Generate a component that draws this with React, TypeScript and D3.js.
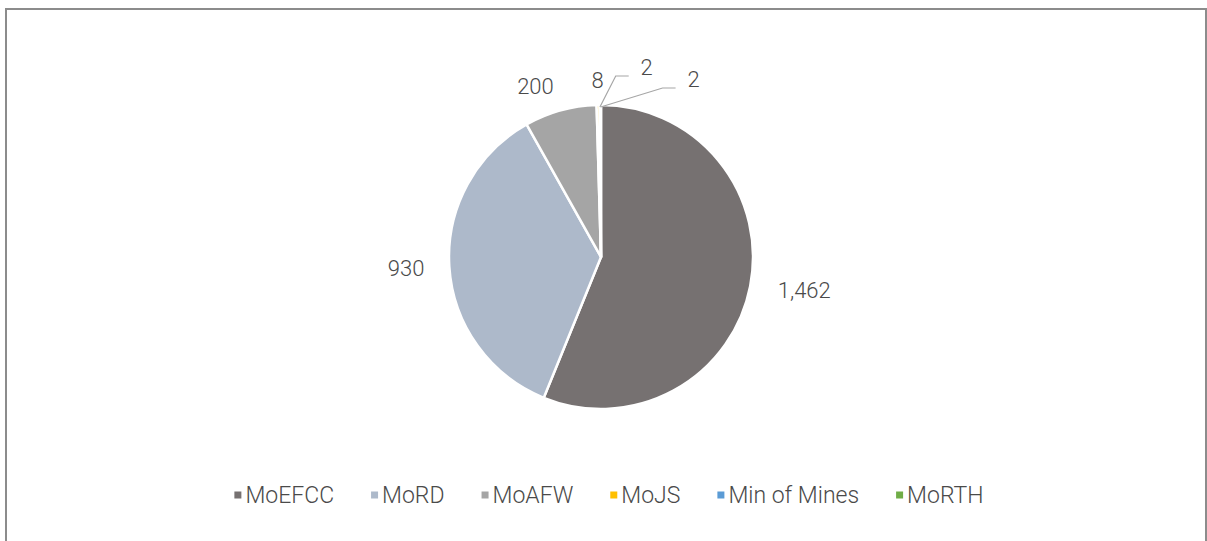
import React, { useEffect, useRef } from "react";
import * as d3 from "d3";

// ministries shown in the pie, clockwise from 12 o'clock
const ministries = ["MoEFCC", "MoRD", "MoAFW", "MoJS", "Min of Mines", "MoRTH"];
const counts = [1462, 930, 200, 8, 2, 2];
const colours = ["#767171", "#ADB9CA", "#A5A5A5", "#FFC000", "#5B9BD5", "#70AD47"];

const W = 1207;
const H = 541;
const cx = 601;
const cy = 257;
const radius = 152;
const labelRadius = 177;
const font = "Roboto, 'Liberation Sans', Arial, sans-serif";
const textColour = "#4a4a4a";

// the two smallest labels are pushed aside so they don't sit on top of "8"
const labelNudge: [number, number][] = [[0, 0], [0, 0], [0, 0], [0, 0], [47, -13], [93, -1]];

export default function App() {
	const ref = useRef<SVGSVGElement>(null);

	useEffect(() => {
		const svg = d3.select(ref.current);
		svg.selectAll("*").remove();

		svg.append("rect")
			.attr("x", 6)
			.attr("y", 9)
			.attr("width", 1200)
			.attr("height", 600)
			.attr("fill", "#fff")
			.attr("stroke", "#8c8c8c")
			.attr("stroke-width", 2);

		const pie = d3.pie<number>().sort(null).value(d => d);
		const slices = pie(counts);
		const arc = d3.arc<d3.PieArcDatum<number>>().innerRadius(0).outerRadius(radius);
		const labelArc = d3.arc<d3.PieArcDatum<number>>().innerRadius(labelRadius).outerRadius(labelRadius);
		const edgeArc = d3.arc<d3.PieArcDatum<number>>().innerRadius(radius - 2).outerRadius(radius - 2);
		const fmt = d3.format(",");

		const g = svg.append("g").attr("transform", `translate(${cx},${cy})`);
		g.selectAll("path.slice")
			.data(slices)
			.join("path")
			.attr("class", "slice")
			.attr("d", arc)
			.attr("fill", (d, i) => colours[i])
			.attr("stroke", "#fff")
			.attr("stroke-width", 2.5)
			.attr("stroke-linejoin", "round");

		slices.forEach((s, i) => {
			const [bx, by] = labelArc.centroid(s);
			const [nx, ny] = labelNudge[i];
			const x = bx + nx;
			const y = by + ny;
			const mid = (s.startAngle + s.endAngle) / 2;
			const sin = Math.sin(mid);
			let anchor = "middle";
			if (nx === 0 && sin > 0.1) anchor = "start";
			if (nx === 0 && sin < -0.1) anchor = "end";

			if (nx !== 0) {
				// leader line: pie edge -> elbow -> just below-left of the label
				const [ex, ey] = edgeArc.centroid(s);
				const endX = x - 18;
				const endY = y + 9;
				g.append("polyline")
					.attr("points", `${ex},${ey} ${endX - 13},${endY} ${endX},${endY}`)
					.attr("fill", "none")
					.attr("stroke", "#a6a6a6")
					.attr("stroke-width", 1.2);
			}

			g.append("text")
				.attr("x", x + (anchor === "start" ? 3 : 0))
				.attr("y", y)
				.attr("text-anchor", anchor)
				.attr("dominant-baseline", "central")
				.style("font-family", font)
				.style("font-weight", 300)
				.style("font-size", "22px")
				.style("fill", textColour)
				.text(fmt(counts[i]));
		});

		// legend along the bottom, centred under the pie
		const legend = svg.append("g").attr("transform", "translate(0,495)");
		const sq = 7;
		const gapIn = 4;
		const gapOut = 37;
		const items = ministries.map((m, i) => {
			const item = legend.append("g");
			item.append("rect")
				.attr("y", -sq / 2)
				.attr("width", sq)
				.attr("height", sq)
				.attr("fill", colours[i]);
			const t = item.append("text")
				.attr("x", sq + gapIn)
				.attr("dominant-baseline", "central")
				.style("font-family", font)
				.style("font-weight", 300)
				.style("font-size", "23px")
				.style("fill", textColour)
				.text(m);
			const w = (t.node() as SVGTextElement).getComputedTextLength();
			return { item, width: sq + gapIn + w };
		});
		const total = d3.sum(items, d => d.width) + gapOut * (items.length - 1);
		let x = 609 - total / 2;
		items.forEach(d => {
			d.item.attr("transform", `translate(${x},0)`);
			x += d.width + gapOut;
		});
	}, []);

	return (
		<svg
			ref={ref}
			width={W}
			height={H}
			style={{ position: "absolute", left: 0, top: 0, background: "#fff" }}
		/>
	);
}
